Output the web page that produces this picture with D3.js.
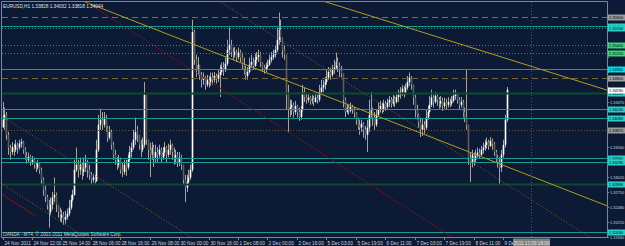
<!DOCTYPE html>
<html>
<head>
<meta charset="utf-8">
<script src="https://cdn.jsdelivr.net/npm/d3@7"></script>
<style>
html, body { margin: 0; padding: 0; background: #0c1a35; }
svg { display: block; font-family: "Liberation Sans", "DejaVu Sans", sans-serif; }
</style>
</head>
<body>
<div id="chart"></div>
<script>
// EURUSD H1, 24 Nov - 9 Dec 2011
const firstOpen = 1.3391;

const closes = [
  1.3405,1.3414,1.3378,1.3355,1.3347,1.3356,1.3351,1.3360,1.3355,1.3362,
  1.3365,1.3351,1.3340,1.3333,1.3338,1.3329,1.3333,1.3324,1.3319,1.3326,
  1.3315,1.3297,1.3279,1.3266,1.3252,1.3239,1.3252,1.3265,1.3270,1.3252,
  1.3239,1.3229,1.3234,1.3225,1.3230,1.3236,1.3247,1.3261,1.3270,1.3315,
  1.3324,1.3315,1.3324,1.3311,1.3319,1.3329,1.3315,1.3306,1.3297,1.3301,
  1.3295,1.3351,1.3396,1.3405,1.3396,1.3409,1.3391,1.3373,1.3383,1.3360,
  1.3342,1.3333,1.3324,1.3333,1.3315,1.3311,1.3324,1.3319,1.3333,1.3347,
  1.3355,1.3369,1.3383,1.3378,1.3360,1.3351,1.3360,1.3450,1.3369,1.3351,
  1.3342,1.3355,1.3337,1.3347,1.3342,1.3351,1.3337,1.3346,1.3355,1.3342,
  1.3351,1.3360,1.3347,1.3337,1.3342,1.3329,1.3337,1.3324,1.3297,1.3283,
  1.3293,1.3301,1.3315,1.3563,1.3513,1.3495,1.3504,1.3486,1.3477,1.3481,
  1.3468,1.3477,1.3473,1.3481,1.3477,1.3484,1.3479,1.3486,1.3491,1.3499,
  1.3495,1.3506,1.3531,1.3540,1.3527,1.3522,1.3527,1.3518,1.3526,1.3517,
  1.3504,1.3495,1.3484,1.3491,1.3504,1.3509,1.3502,1.3513,1.3518,1.3522,
  1.3508,1.3499,1.3495,1.3500,1.3504,1.3513,1.3518,1.3522,1.3531,1.3549,
  1.3567,1.3553,1.3531,1.3522,1.3450,1.3423,1.3427,1.3432,1.3419,1.3430,
  1.3419,1.3410,1.3423,1.3454,1.3446,1.3441,1.3445,1.3439,1.3443,1.3437,
  1.3445,1.3441,1.3455,1.3463,1.3468,1.3473,1.3481,1.3491,1.3486,1.3495,
  1.3499,1.3509,1.3502,1.3495,1.3488,1.3441,1.3419,1.3427,1.3421,1.3428,
  1.3423,1.3418,1.3405,1.3396,1.3391,1.3398,1.3387,1.3378,1.3391,1.3414,
  1.3423,1.3409,1.3396,1.3414,1.3423,1.3430,1.3423,1.3434,1.3428,1.3436,
  1.3441,1.3434,1.3443,1.3437,1.3446,1.3450,1.3455,1.3461,1.3454,1.3463,
  1.3473,1.3481,1.3468,1.3445,1.3423,1.3414,1.3401,1.3387,1.3396,1.3391,
  1.3409,1.3419,1.3432,1.3445,1.3437,1.3448,1.3441,1.3434,1.3439,1.3430,
  1.3436,1.3432,1.3437,1.3434,1.3439,1.3448,1.3452,1.3441,1.3432,1.3437,
  1.3419,1.3409,1.3396,1.3337,1.3329,1.3342,1.3333,1.3340,1.3346,1.3342,
  1.3351,1.3355,1.3360,1.3365,1.3358,1.3367,1.3362,1.3347,1.3337,1.3328,
  1.3319,1.3342,1.3360,1.3405,1.3459
];

const highs = [
  1.3437,1.3427,1.3419,1.3383,1.3360,1.3365,1.3362,1.3369,1.3364,1.3369,
  1.3371,1.3367,1.3355,1.3347,1.3346,1.3342,1.3340,1.3337,1.3329,1.3333,
  1.3328,1.3319,1.3301,1.3286,1.3270,1.3261,1.3265,1.3275,1.3301,1.3274,
  1.3252,1.3247,1.3243,1.3239,1.3241,1.3245,1.3261,1.3270,1.3279,1.3333,
  1.3355,1.3333,1.3337,1.3329,1.3337,1.3342,1.3333,1.3324,1.3311,1.3308,
  1.3306,1.3369,1.3414,1.3425,1.3419,1.3419,1.3414,1.3394,1.3394,1.3387,
  1.3365,1.3351,1.3338,1.3342,1.3337,1.3328,1.3333,1.3333,1.3342,1.3358,
  1.3364,1.3387,1.3409,1.3394,1.3378,1.3369,1.3373,1.3473,1.3450,1.3369,
  1.3364,1.3365,1.3360,1.3360,1.3356,1.3360,1.3355,1.3356,1.3365,1.3358,
  1.3362,1.3369,1.3362,1.3355,1.3351,1.3347,1.3347,1.3342,1.3324,1.3306,
  1.3306,1.3315,1.3324,1.3585,1.3567,1.3522,1.3518,1.3504,1.3491,1.3490,
  1.3484,1.3486,1.3484,1.3490,1.3490,1.3491,1.3488,1.3495,1.3504,1.3508,
  1.3509,1.3517,1.3549,1.3571,1.3549,1.3535,1.3536,1.3531,1.3535,1.3531,
  1.3526,1.3517,1.3502,1.3500,1.3517,1.3522,1.3517,1.3524,1.3527,1.3531,
  1.3527,1.3509,1.3504,1.3508,1.3513,1.3522,1.3527,1.3531,1.3538,1.3571,
  1.3598,1.3585,1.3553,1.3540,1.3522,1.3468,1.3441,1.3441,1.3436,1.3439,
  1.3432,1.3427,1.3430,1.3468,1.3463,1.3452,1.3452,1.3448,1.3450,1.3448,
  1.3452,1.3450,1.3468,1.3477,1.3477,1.3482,1.3495,1.3500,1.3499,1.3504,
  1.3513,1.3526,1.3517,1.3508,1.3502,1.3488,1.3445,1.3434,1.3432,1.3436,
  1.3432,1.3428,1.3419,1.3409,1.3405,1.3405,1.3401,1.3394,1.3405,1.3441,
  1.3455,1.3427,1.3419,1.3423,1.3436,1.3439,1.3436,1.3441,1.3439,1.3443,
  1.3448,1.3446,1.3450,1.3448,1.3454,1.3459,1.3464,1.3468,1.3466,1.3470,
  1.3484,1.3490,1.3484,1.3468,1.3450,1.3432,1.3416,1.3409,1.3407,1.3403,
  1.3423,1.3430,1.3448,1.3459,1.3450,1.3455,1.3452,1.3446,1.3448,1.3445,
  1.3445,1.3443,1.3446,1.3443,1.3448,1.3459,1.3459,1.3454,1.3446,1.3446,
  1.3441,1.3427,1.3495,1.3396,1.3347,1.3351,1.3346,1.3351,1.3355,1.3353,
  1.3358,1.3364,1.3369,1.3373,1.3369,1.3374,1.3371,1.3365,1.3351,1.3342,
  1.3338,1.3351,1.3369,1.3414,1.3464
];

const lows = [
  1.3396,1.3387,1.3369,1.3342,1.3333,1.3342,1.3340,1.3347,1.3344,1.3351,
  1.3355,1.3344,1.3333,1.3326,1.3328,1.3322,1.3324,1.3317,1.3311,1.3315,
  1.3308,1.3288,1.3268,1.3257,1.3243,1.3211,1.3234,1.3243,1.3257,1.3239,
  1.3229,1.3221,1.3220,1.3216,1.3218,1.3225,1.3232,1.3243,1.3257,1.3268,
  1.3311,1.3301,1.3306,1.3297,1.3304,1.3311,1.3301,1.3297,1.3290,1.3292,
  1.3290,1.3293,1.3347,1.3387,1.3387,1.3391,1.3383,1.3365,1.3369,1.3351,
  1.3333,1.3324,1.3315,1.3319,1.3308,1.3302,1.3306,1.3304,1.3315,1.3328,
  1.3337,1.3351,1.3360,1.3365,1.3351,1.3338,1.3347,1.3355,1.3360,1.3333,
  1.3302,1.3333,1.3320,1.3329,1.3329,1.3337,1.3328,1.3333,1.3340,1.3329,
  1.3337,1.3342,1.3333,1.3324,1.3326,1.3320,1.3322,1.3315,1.3288,1.3257,
  1.3275,1.3288,1.3297,1.3311,1.3504,1.3482,1.3486,1.3477,1.3463,1.3468,
  1.3459,1.3464,1.3463,1.3466,1.3468,1.3472,1.3470,1.3473,1.3446,1.3486,
  1.3484,1.3491,1.3502,1.3522,1.3518,1.3513,1.3517,1.3509,1.3513,1.3509,
  1.3495,1.3486,1.3477,1.3477,1.3488,1.3499,1.3495,1.3500,1.3506,1.3509,
  1.3500,1.3491,1.3488,1.3491,1.3495,1.3502,1.3508,1.3513,1.3517,1.3527,
  1.3540,1.3545,1.3517,1.3513,1.3423,1.3382,1.3410,1.3414,1.3409,1.3414,
  1.3409,1.3403,1.3405,1.3419,1.3437,1.3434,1.3436,1.3432,1.3434,1.3430,
  1.3436,1.3434,1.3437,1.3450,1.3455,1.3459,1.3468,1.3477,1.3477,1.3482,
  1.3488,1.3495,1.3491,1.3482,1.3481,1.3427,1.3410,1.3416,1.3414,1.3418,
  1.3416,1.3409,1.3396,1.3387,1.3378,1.3383,1.3373,1.3369,1.3347,1.3383,
  1.3409,1.3394,1.3387,1.3392,1.3412,1.3418,1.3416,1.3419,1.3421,1.3423,
  1.3428,1.3427,1.3430,1.3428,1.3434,1.3437,1.3443,1.3448,1.3445,1.3450,
  1.3459,1.3466,1.3459,1.3432,1.3409,1.3405,1.3391,1.3374,1.3376,1.3380,
  1.3387,1.3405,1.3416,1.3428,1.3427,1.3434,1.3430,1.3425,1.3427,1.3421,
  1.3425,1.3423,1.3427,1.3428,1.3430,1.3436,1.3441,1.3434,1.3423,1.3427,
  1.3409,1.3401,1.3387,1.3324,1.3293,1.3319,1.3322,1.3329,1.3337,1.3335,
  1.3340,1.3344,1.3349,1.3353,1.3351,1.3356,1.3351,1.3340,1.3328,1.3319,
  1.3288,1.3311,1.3337,1.3355,1.3401
];

// one time label every 16 bars
const timeLabels = [
  '24 Nov 2011', '24 Nov 22:00', '25 Nov 14:00', '28 Nov 06:00', '28 Nov 16:00',
  '29 Nov 08:00', '30 Nov 00:00', '30 Nov 16:00', '1 Dec 08:00', '2 Dec 00:00',
  '2 Dec 16:00', '5 Dec 03:00', '5 Dec 19:00', '6 Dec 11:00', '7 Dec 03:00',
  '7 Dec 19:00', '8 Dec 11:00', '9 Dec'
];
const timeLabelStep = 16;

const priceTicks = [
  1.31940, 1.32210, 1.32480, 1.32750, 1.33020, 1.33290, 1.33560, 1.33830,
  1.34100, 1.34370, 1.34640, 1.34910, 1.35180, 1.35450, 1.35720
];

// horizontal line objects
const levelPrices = [
  1.3590, 1.3574, 1.3570, 1.3540, 1.3525, 1.3496, 1.3480,
  1.3453, 1.3424, 1.3408, 1.3387, 1.3336, 1.3329, 1.3289, 1.3203
];

// trend lines: [bar1, price1, bar2, price2]
const trendLines = [
  [45, 1.3617, 300, 1.3287],
  [173, 1.3620, 300, 1.3488],
  [118, 1.3618, 300, 1.3234],
  [44, 1.3620, 240, 1.3203],
  [0, 1.3411, 100, 1.3199],
  [0, 1.3289, 40, 1.3204],
  [0, 1.3270, 18, 1.3232]
];

const vLineBar = 287;
const vLineLabel = '2011.12.09 18:00';
const headerText = 'EURUSD,H1  1.33828 1.34032 1.33818 1.34044';
const footerText = 'OANDA - MT4, \u00a9 2001-2011 MetaQuotes Software Corp.';

// ---------------------------------------------------------------

const W = 625, H = 246;
const plot = { left: 2, right: 607, top: 2, bottom: 237 };
const fs = 4.7;
const axisFs = 3.9;

const x = d3.scaleLinear().domain([0, 272]).range([2.5, 503]);
const y = d3.scaleLinear().domain([1.3194, 1.36206]).range([237, 0]);
const fmt = d3.format('.5f');

const svg = d3.select('#chart')
    .append('svg')
    .attr('width', W)
    .attr('height', H);

svg.append('rect')
    .attr('width', W)
    .attr('height', H)
    .attr('fill', '#0c1a35');

svg.append('defs')
    .append('clipPath')
    .attr('id', 'plotClip')
    .append('rect')
    .attr('x', plot.left)
    .attr('y', plot.top)
    .attr('width', plot.right - plot.left)
    .attr('height', plot.bottom - plot.top);

const g = svg.append('g').attr('clip-path', 'url(#plotClip)');

// candles
const bars = closes.map((c, i) => ({
    i,
    open: i ? closes[i - 1] : firstOpen,
    close: c,
    high: highs[i],
    low: lows[i]
}));

const candles = g.append('g');
bars.forEach(d => {
    const cx = Math.round(x(d.i)) + 0.5;
    const up = d.close >= d.open;
    candles.append('line')
        .attr('x1', cx).attr('x2', cx)
        .attr('y1', y(d.high)).attr('y2', y(d.low))
        .attr('stroke', '#a4a4a4')
        .attr('stroke-width', 1);
    const top = y(Math.max(d.open, d.close));
    const bot = y(Math.min(d.open, d.close));
    candles.append('rect')
        .attr('x', cx - 0.8)
        .attr('y', top)
        .attr('width', 1.6)
        .attr('height', Math.max(0.8, bot - top))
        .attr('fill', up ? '#ffffff' : '#5c5c5c');
});

// horizontal lines
const teal = { line: '#1a9892', box: '#2ccfc8' };
const levelLook = [
    { line: '#6c6c6c', dash: '6,4', box: '#9a9a9a' },
    { line: teal.line, box: teal.box },
    { line: teal.line, dash: '1,2', box: teal.box },
    { line: '#2a9468', dash: '1,2', box: '#3fd27f' },
    { line: '#2a9468', dash: '1,2', box: '#3fd27f' },
    { line: teal.line, box: '#00e0e8' },
    { line: '#76633f', dash: '6,4', box: '#a2a2a2' },
    { line: '#0c4a2e', width: 2, box: teal.box },
    { line: teal.line, box: teal.box },
    { line: teal.line, box: teal.box },
    { line: '#735622', dash: '1,2', box: '#9a9a9a' },
    { line: teal.line, box: teal.box },
    { line: teal.line, box: teal.box },
    { line: '#0c4a2e', width: 2, box: teal.box },
    { line: teal.line, box: teal.box }
];

levelPrices.forEach((p, k) => {
    const look = levelLook[k];
    const yy = Math.round(y(p)) + 0.5;
    g.append('line')
        .attr('x1', plot.left).attr('x2', plot.right)
        .attr('y1', yy).attr('y2', yy)
        .attr('stroke', look.line)
        .attr('stroke-width', look.width || 1)
        .attr('stroke-dasharray', look.dash || null);
});

// trend lines
const trendLook = [
    { color: '#b59d1c' },
    { color: '#b59d1c' },
    { color: '#8a6420', dash: '1,2' },
    { color: '#8e1212', dash: '2,1.5' },
    { color: '#8a6420', dash: '1,2' },
    { color: '#8a6420', dash: '1,2' },
    { color: '#9a1010', segment: true }
];

trendLines.forEach((t, k) => {
    const [b1, p1, b2, p2] = t;
    const look = trendLook[k];
    const x1 = x(b1), y1 = y(p1), x2 = x(b2), y2 = y(p2);
    const s = (y2 - y1) / (x2 - x1);
    const xa = look.segment ? x1 : plot.left;
    const xb = look.segment ? x2 : plot.right;
    g.append('line')
        .attr('x1', xa).attr('y1', y1 + s * (xa - x1))
        .attr('x2', xb).attr('y2', y1 + s * (xb - x1))
        .attr('stroke', look.color)
        .attr('stroke-width', 1)
        .attr('stroke-dasharray', look.dash || null);
});

// vertical line
const vx = Math.round(x(vLineBar)) + 0.5;
g.append('line')
    .attr('x1', vx).attr('x2', vx)
    .attr('y1', plot.top).attr('y2', plot.bottom)
    .attr('stroke', '#6a5530')
    .attr('stroke-dasharray', '1,2');

// frame
svg.append('path')
    .attr('d', `M${plot.left - 0.5},${plot.bottom + 0.5}V${plot.top - 0.5}H${plot.right + 0.5}V${plot.bottom + 0.5}Z`)
    .attr('fill', 'none')
    .attr('stroke', '#858585')
    .attr('stroke-width', 1);

// right price scale (plain labels hidden under a line label are skipped)
const lastClose = closes[closes.length - 1];
const boxedY = levelPrices.concat([lastClose]).map(p => y(p));

priceTicks.forEach(p => {
    const yy = Math.round(y(p)) + 0.5;
    svg.append('line')
        .attr('x1', plot.right).attr('x2', plot.right + 2)
        .attr('y1', yy).attr('y2', yy)
        .attr('stroke', '#858585');
    if (boxedY.some(by => Math.abs(by - yy) < 5)) return;
    svg.append('text')
        .attr('x', plot.right + 3)
        .attr('y', yy)
        .attr('dy', '0.35em')
        .attr('fill', '#d4d4d4')
        .attr('font-size', axisFs + 'px')
        .text(fmt(p));
});

const priceBox = (p, fill, textColor) => {
    const yy = Math.round(y(p)) + 0.5;
    svg.append('rect')
        .attr('x', plot.right + 1)
        .attr('y', yy - 3)
        .attr('width', W - plot.right)
        .attr('height', 6)
        .attr('fill', fill);
    svg.append('text')
        .attr('x', plot.right + 2)
        .attr('y', yy)
        .attr('dy', '0.35em')
        .attr('fill', textColor)
        .attr('font-size', axisFs + 'px')
        .text(fmt(p));
};

levelPrices.forEach((p, k) => priceBox(p, levelLook[k].box, '#000'));
priceBox(lastClose, '#ffffff', '#000');

// time scale
timeLabels.forEach((label, k) => {
    const tx = Math.round(x(k * timeLabelStep)) + 0.5;
    svg.append('line')
        .attr('x1', tx).attr('x2', tx)
        .attr('y1', plot.bottom).attr('y2', plot.bottom + 3)
        .attr('stroke', '#858585');
    svg.append('text')
        .attr('x', tx + 1)
        .attr('y', 244.5)
        .attr('fill', '#d4d4d4')
        .attr('font-size', fs + 'px')
        .text(label);
});

svg.append('rect')
    .attr('x', vx - 18.5)
    .attr('y', plot.bottom + 1.5)
    .attr('width', 37)
    .attr('height', 8)
    .attr('fill', '#808080');
svg.append('text')
    .attr('x', vx)
    .attr('y', 244.5)
    .attr('text-anchor', 'middle')
    .attr('fill', '#e8e8e8')
    .attr('font-size', fs + 'px')
    .text(vLineLabel);

// texts
svg.append('text')
    .attr('x', 3)
    .attr('y', 7.5)
    .attr('fill', '#e0e0e0')
    .attr('font-size', fs + 'px')
    .text(headerText);

svg.append('text')
    .attr('x', 3)
    .attr('y', 235.5)
    .attr('fill', '#d8d8d8')
    .attr('font-size', fs + 'px')
    .text(footerText);
</script>
</body>
</html>
